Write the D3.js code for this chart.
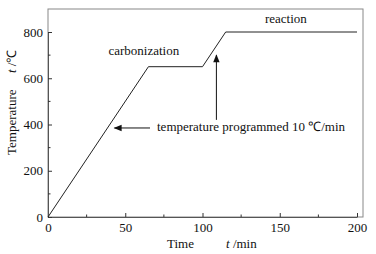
<!DOCTYPE html>
<html>
<head>
<meta charset="utf-8">
<script src="https://cdn.jsdelivr.net/npm/d3@7"></script>
<style>
  body { margin: 0; background: #fff; }
  text { font-family: "Liberation Serif", "Times New Roman", serif; fill: #111; }
</style>
</head>
<body>
<div id="container"></div>
<script>
/* CONSTANTS AND GLOBALS */
const width = 376;
const height = 254;
const margin = {top: 9, bottom: 37, left: 48, right: 13};
const fs = "13px";

/* DATA */
const timeMin = [0, 65, 100, 115, 200];
const tempC = [0, 650, 650, 800, 800];
const xTicks = [0, 50, 100, 150, 200];
const yTicks = [0, 200, 400, 600, 800];
const xMinor = [25, 75, 125, 175];
const yMinor = [100, 300, 500, 700];

const data = timeMin.map((t, i) => ({t: t, T: tempC[i]}));

/* SCALES */
const xScale = d3.scaleLinear()
  .domain([0, 200])
  .range([margin.left, 357]);
const yScale = d3.scaleLinear()
  .domain([0, 800])
  .range([height - margin.bottom, 32]);

const svg = d3.select("#container")
  .append("svg")
  .attr("width", width)
  .attr("height", height);

svg.append("defs").append("marker")
  .attr("id", "head")
  .attr("viewBox", "0 0 10 10")
  .attr("refX", 9).attr("refY", 5)
  .attr("markerWidth", 9).attr("markerHeight", 8)
  .attr("markerUnits", "userSpaceOnUse")
  .attr("orient", "auto")
  .append("path")
  .attr("d", "M0,1 L10,5 L0,9 Z")
  .attr("fill", "#111");

const x0 = margin.left, x1 = width - margin.right;
const y0 = height - margin.bottom, y1 = margin.top;

// frame
svg.append("rect")
  .attr("x", x0).attr("y", y1)
  .attr("width", x1 - x0).attr("height", y0 - y1)
  .attr("fill", "none").attr("stroke", "#888").attr("stroke-width", 1);

// axes (ticks inward)
const xAxisGroup = svg.append("g")
  .attr("transform", `translate(0,${y0})`)
  .call(d3.axisBottom(xScale).tickValues(xTicks).tickSizeInner(-4).tickSizeOuter(0).tickPadding(6));
const yAxisGroup = svg.append("g")
  .attr("transform", `translate(${x0},0)`)
  .call(d3.axisLeft(yScale).tickValues(yTicks).tickSizeInner(-4).tickSizeOuter(0).tickPadding(5));

[xAxisGroup, yAxisGroup].forEach(g => {
  g.select(".domain").attr("stroke", "#555");
  g.selectAll(".tick line").attr("stroke", "#333");
  g.selectAll(".tick text")
    .style("font-family", "'Liberation Serif', serif")
    .style("font-size", fs)
    .attr("fill", "#111");
});

// minor ticks
svg.append("g").selectAll("line")
  .data(xMinor).join("line")
  .attr("x1", d => xScale(d)).attr("x2", d => xScale(d))
  .attr("y1", y0).attr("y2", y0 - 2.5)
  .attr("stroke", "#333");
svg.append("g").selectAll("line")
  .data(yMinor).join("line")
  .attr("x1", x0).attr("x2", x0 + 2.5)
  .attr("y1", d => yScale(d)).attr("y2", d => yScale(d))
  .attr("stroke", "#333");

// line
const line = d3.line().x(d => xScale(d.t)).y(d => yScale(d.T));
svg.append("path")
  .datum(data)
  .attr("d", line)
  .attr("fill", "none")
  .attr("stroke", "#222")
  .attr("stroke-width", 1);

// annotations
svg.append("text").attr("x", xScale(62)).attr("y", yScale(700))
  .attr("text-anchor", "middle").style("font-size", fs).text("carbonization");
svg.append("text").attr("x", xScale(154)).attr("y", yScale(840))
  .attr("text-anchor", "middle").style("font-size", fs).text("reaction");
svg.append("text").attr("x", 157).attr("y", yScale(370))
  .style("font-size", fs).text("temperature programmed 10 \u2103/min");

svg.append("line")
  .attr("x1", 150).attr("x2", xScale(43))
  .attr("y1", yScale(385)).attr("y2", yScale(385))
  .attr("stroke", "#111").attr("marker-end", "url(#head)");
svg.append("line")
  .attr("x1", xScale(109)).attr("x2", xScale(109))
  .attr("y1", yScale(420)).attr("y2", yScale(700))
  .attr("stroke", "#111").attr("marker-end", "url(#head)");

// axis titles
svg.append("text").attr("x", 167).attr("y", 248)
  .style("font-size", fs).text("Time");
svg.append("text").attr("x", 226).attr("y", 248)
  .style("font-size", fs)
  .html('<tspan font-style="italic">t</tspan> /min');
svg.append("text")
  .attr("transform", "translate(16,155) rotate(-90)")
  .style("font-size", fs).text("Temperature");
svg.append("text")
  .attr("transform", "translate(16,73) rotate(-90)")
  .style("font-size", fs)
  .html('<tspan font-style="italic">t</tspan> /\u2103');
</script>
</body>
</html>
